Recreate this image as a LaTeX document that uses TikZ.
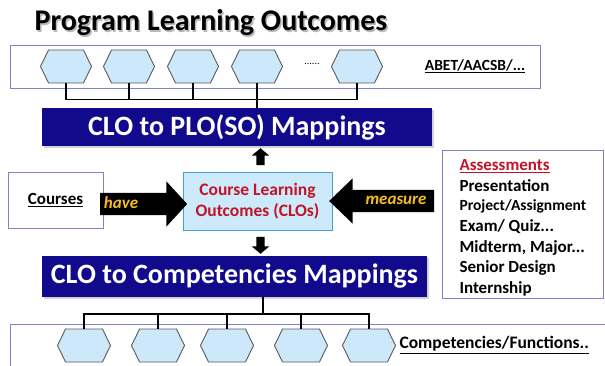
\documentclass[tikz,border=0pt]{standalone}
\usepackage{fontspec}
\setmainfont{Carlito}
\usetikzlibrary{shapes.symbols, shapes.arrows, shadows}

\definecolor{frameblue}{RGB}{128,128,208}
\definecolor{navybox}{RGB}{18,10,140}
\definecolor{hexfill}{RGB}{204,232,250}
\definecolor{hexline}{RGB}{90,90,90}
\definecolor{clofill}{RGB}{204,234,250}
\definecolor{cloline}{RGB}{70,160,215}
\definecolor{darkred}{RGB}{196,18,40}
\definecolor{gold}{RGB}{245,190,30}

\tikzset{
  hexa/.style={signal, signal to=west and east, signal pointer angle=128,
    draw=hexline, fill=hexfill, line width=0.9pt, inner sep=0pt,
    minimum width=51pt, minimum height=33pt},
  mapbox/.style={fill=navybox, text=white, font=\bfseries\fontsize{28}{30}\selectfont,
    drop shadow={shadow xshift=2pt, shadow yshift=-2pt, opacity=0.35}},
  framebox/.style={draw=frameblue, line width=0.9pt},
  blockarrow/.style={single arrow, fill=black, inner xsep=0pt, inner ysep=11pt,
    single arrow head extend=11.5pt},
  arrowtext/.style={text=gold, font=\bfseries\itshape\fontsize{17}{19}\selectfont},
  smallarrow/.style={single arrow, fill=black, inner sep=4pt, minimum height=17pt,
    single arrow head extend=4.5pt, single arrow tip angle=100},
  bus/.style={line width=1.6pt}
}

\begin{document}
\begin{tikzpicture}[x=1pt, y=-1pt]
  \useasboundingbox (0,0) rectangle (605,366);

  % title
  \node[text=gray!55, font=\bfseries\fontsize{30}{33}\selectfont] at (212.5,24.5) {Program Learning Outcomes};
  \node[font=\bfseries\fontsize{30}{33}\selectfont] (title) at (211,23) {Program Learning Outcomes};

  % program outcomes row
  \draw[framebox] (10,45) rectangle (540,88);
  \foreach \i/\x in {1/66, 2/129, 3/193, 4/257, 5/357}
    \node[hexa] (p\i) at (\x,66.5) {};
  \node[font=\fontsize{10}{12}\selectfont] (pdots) at (312,64) {......};
  \node[font=\bfseries\fontsize{15.5}{18}\selectfont] (abet) at (475,66) {\underline{ABET/AACSB/...}};

  \draw[bus] (p1.south) -- ++(0,16) -| (p5.south);
  \foreach \i in {2,3}
    \draw[bus] (p\i.south) -- ++(0,16);
  \node[mapbox, minimum width=390pt, minimum height=38pt] (plomap) at (237,127) {CLO to PLO(SO) Mappings};
  \draw[bus] (p4.south) -- (p4.south |- plomap.north);

  % middle row
  \node[framebox, minimum width=95pt, minimum height=56pt,
    font=\bfseries\fontsize{17}{20}\selectfont] (courses) at (55.5,200) {\underline{Courses}};
  \node[draw=cloline, line width=0.9pt, fill=clofill, text=darkred, align=center,
    minimum width=149pt, minimum height=58pt,
    font=\bfseries\fontsize{17.5}{20.5}\selectfont] (clo) at (257.5,201) {Course Learning\\Outcomes (CLOs)};

  \node[blockarrow, single arrow tip angle=95, minimum height=87pt] (have) at (138.5,204) {};
  \node[arrowtext] (havetext) at (121,203) {have};
  \node[blockarrow, shape border rotate=180, single arrow tip angle=88, minimum height=105pt] (measure) at (387.5,201) {};
  \node[arrowtext] (measuretext) at (396,200) {measure};

  \node[smallarrow, shape border rotate=90] (up) at (260.5,158.5) {};
  \node[smallarrow, shape border rotate=270] (down) at (260.5,243.5) {};

  % assessments
  \draw[framebox] (442,150) rectangle (603,298);
  \node[anchor=west, text=darkred, font=\bfseries\fontsize{17}{20}\selectfont] (assess) at (456,166) {\underline{Assessments}};
  \foreach \t/\y/\s in {Presentation/186/17, {Project/Assignment}/206/15.5, {Exam/ Quiz...}/227/17,
                         {Midterm, Major...}/248/17, Senior Design/268/17, Internship/289/17}
    \node[anchor=west, font=\bfseries\fontsize{\s}{\s}\selectfont] at (456,\y) {\t};

  % competencies row
  \node[mapbox, minimum width=385pt, minimum height=41pt] (compmap) at (234.5,276.5) {CLO to Competencies Mappings};
  \draw[framebox] (10,324) rectangle (620,380);
  \foreach \i/\x in {1/84, 2/158, 3/227, 4/301, 5/369}
    \node[hexa, minimum width=53pt] (c\i) at (\x,345.5) {};
  \node[anchor=west, font=\bfseries\fontsize{17.5}{20}\selectfont] (comp) at (396,345) {\underline{Competencies/Functions..}};

  \coordinate (cbus) at (263,314);
  \draw[bus] (c1.north) -- (c1.north |- cbus) -| (c5.north);
  \foreach \i in {2,3,4}
    \draw[bus] (c\i.north) -- (c\i.north |- cbus);
  \draw[bus] (cbus) -- (cbus |- compmap.south);

\end{tikzpicture}
\end{document}
